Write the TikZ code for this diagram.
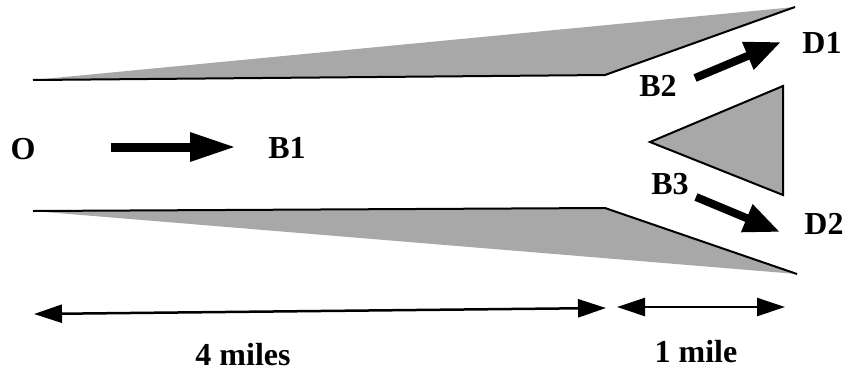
\documentclass[tikz,border=0pt]{standalone}
\usepackage{fontspec}
\setmainfont{Liberation Serif}
\usetikzlibrary{arrows.meta}
\definecolor{wallgray}{gray}{0.66}
\tikzset{
  wall/.style={fill=wallgray},
  wallline/.style={line width=2pt, line join=miter},
  lbl/.style={font=\bfseries\fontsize{32}{32}\selectfont, inner sep=0pt},
  flow/.style={line width=9pt, -{Triangle[length=46pt,width=27pt]}},
  flowsmall/.style={line width=8pt, -{Triangle[length=36pt,width=28pt]}},
  dim/.style={line width=2.5pt, {Triangle[length=28pt,width=18pt]}-{Triangle[length=28pt,width=18pt]}}
}
\begin{document}
\begin{tikzpicture}[x=1pt,y=-1pt]
\useasboundingbox (0,0) rectangle (850,376);
% walls
\coordinate (t1) at (33,80);
\coordinate (t2) at (605,75);
\coordinate (t3) at (795,7);
\coordinate (b1) at (33,211);
\coordinate (b2) at (605,208);
\coordinate (b3) at (797,274);
\fill[wall] (t1) -- (t2) -- (t3) -- cycle;
\draw[wallline] (t1) -- (t2) -- (t3);
\fill[wall] (b1) -- (b2) -- (b3) -- cycle;
\draw[wallline] (b1) -- (b2) -- (b3);
% splitter
\draw[wall, line width=2pt] (650,142) -- (783,86) -- (783,195) -- cycle;
% labels
\node[lbl] (O) at (23,149) {O};
\node[lbl] (B1) at (287,148) {B1};
\node[lbl] (B2) at (658,86) {B2};
\node[lbl] (B3) at (670,184) {B3};
\node[lbl] (D1) at (822,43) {D1};
\node[lbl] (D2) at (824,224) {D2};
\node[lbl] (L4) at (243,355) {4 miles};
\node[lbl] (L1) at (696,352) {1 mile};
% flow arrows
\coordinate (a1s) at (111,147);
\coordinate (a1e) at (236,147);
\draw[flow] (a1s) -- (a1e);
\coordinate (a2s) at (695,78);
\coordinate (a2e) at (781,42);
\draw[flowsmall] (a2s) -- (a2e);
\coordinate (a3s) at (696,197);
\coordinate (a3e) at (780,232);
\draw[flowsmall] (a3s) -- (a3e);
% dimensions
\coordinate (d1s) at (34,314);
\coordinate (d1e) at (606,308);
\draw[dim] (d1s) -- (d1e);
\coordinate (d2s) at (617,307);
\coordinate (d2e) at (785,307);
\draw[dim] (d2s) -- (d2e);
\end{tikzpicture}
\end{document}
